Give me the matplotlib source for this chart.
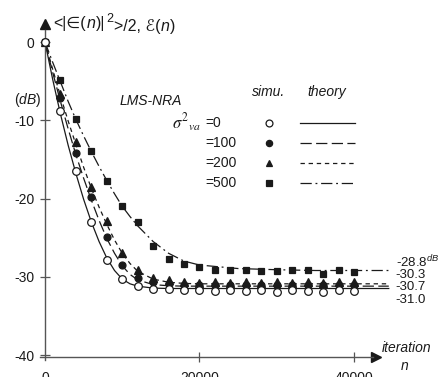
import matplotlib
matplotlib.use("Agg")
import matplotlib.pyplot as plt

plt.rcParams['font.family'] = ['Liberation Sans', 'DejaVu Sans']
plt.rcParams['mathtext.fontset'] = 'custom'
plt.rcParams['mathtext.rm'] = 'Liberation Sans'
plt.rcParams['mathtext.it'] = 'Liberation Sans:italic'

# simulation points (every 2000 iterations)
n_sim = [0, 2000, 4000, 6000, 8000, 10000, 12000, 14000, 16000, 18000, 20000,
         22000, 24000, 26000, 28000, 30000, 32000, 34000, 36000, 38000, 40000]
sim0 = [0, -8.8, -16.5, -23.0, -27.9, -30.3, -31.2, -31.5, -31.5, -31.7, -31.7,
        -31.8, -31.7, -31.8, -31.7, -31.9, -31.7, -31.8, -31.9, -31.7, -31.8]
sim100 = [0, -7.1, -14.2, -19.8, -24.9, -28.5, -30.2, -30.7, -30.9, -31.0, -31.0,
          -31.0, -31.1, -31.0, -31.0, -31.1, -31.0, -31.0, -31.1, -31.0, -31.0]
sim200 = [0, -6.6, -12.8, -18.5, -22.9, -26.9, -29.1, -30.2, -30.4, -30.7, -30.8,
          -30.7, -30.8, -30.7, -30.8, -30.7, -30.8, -30.7, -30.8, -30.7, -30.7]
sim500 = [0, -4.8, -9.8, -13.9, -17.7, -20.9, -23.0, -26.1, -27.7, -28.4, -28.7,
          -29.1, -29.1, -29.1, -29.3, -29.3, -29.1, -29.1, -29.6, -29.1, -29.4]

# theory curves
n_th = [0, 1000, 2000, 3000, 4000, 5000, 6000, 7000, 8000, 9000, 10000, 11000,
        12000, 14000, 16000, 18000, 20000, 25000, 30000, 35000, 40000, 44500]
th0 = [0, -4.8, -9.2, -13.2, -16.8, -20.1, -23.0, -25.5, -27.6, -29.2, -30.3, -30.9,
       -31.2, -31.45, -31.5, -31.5, -31.5, -31.5, -31.5, -31.5, -31.5, -31.5]
th100 = [0, -3.9, -7.6, -11.1, -14.4, -17.4, -20.2, -22.8, -25.1, -27.0, -28.6, -29.7,
         -30.4, -31.0, -31.15, -31.2, -31.2, -31.2, -31.2, -31.2, -31.2, -31.2]
th200 = [0, -3.5, -6.9, -10.1, -13.1, -16.0, -18.7, -21.1, -23.3, -25.3, -27.0, -28.3,
         -29.3, -30.3, -30.7, -30.85, -30.9, -30.9, -30.9, -30.9, -30.9, -30.9]
th500 = [0, -2.6, -5.1, -7.6, -9.9, -12.0, -14.0, -15.9, -17.7, -19.4, -21.0, -22.3,
         -23.5, -25.5, -27.0, -28.0, -28.5, -28.95, -29.1, -29.2, -29.2, -29.2]

var_labels = ['=0', '=100', '=200', '=500']
end_labels = [r'-28.8$^{\mathit{dB}}$', '-30.3', '-30.7', '-31.0']
end_pos = [-28.1, -29.75, -31.35, -32.95]

ink = '#1a1a1a'
axc = '#555555'
dash_styles = ['-', (0, (9, 3.5)), (0, (3.5, 3)), (0, (9, 3, 1.5, 3))]
markers = [dict(marker='o', mfc='white', ms=5.5),
           dict(marker='o', mfc=ink, ms=5),
           dict(marker='^', mfc=ink, ms=5.5),
           dict(marker='s', mfc=ink, ms=4.8)]

fig = plt.figure(figsize=(4.4, 3.77), dpi=100)
ax = fig.add_axes([0, 0, 1, 1])
ax.set_xlim(-5825, 51133)
ax.set_ylim(-42.81, 5.37)

sims = [sim0, sim100, sim200, sim500]
ths = [th0, th100, th200, th500]
for i in range(4):
    ax.plot(n_th, ths[i], color=ink, lw=0.9, linestyle=dash_styles[i], zorder=2)
    ax.plot(n_sim, sims[i], linestyle='none', color=ink, mec=ink, mew=0.9,
            zorder=3 + (i == 0), **markers[i])

# axes with arrows
for s in ['top', 'right']:
    ax.spines[s].set_visible(False)
ax.spines['left'].set_position(('data', 0))
ax.spines['bottom'].set_position(('data', -40.3))
ax.spines['left'].set_bounds(-40.6, 1.5)
ax.spines['bottom'].set_bounds(-700, 42500)
for s in ['left', 'bottom']:
    ax.spines[s].set_color(axc)
    ax.spines[s].set_linewidth(1.0)
ax.plot([0], [2.3], marker='^', ms=7, color=ink, clip_on=False)
ax.plot([42900], [-40.3], marker='>', ms=7, color=ink, clip_on=False)

ax.set_yticks([0, -10, -20, -30, -40])
ax.set_yticklabels(['0', '-10', '-20', '-30', '-40'])
ax.set_xticks([20000, 40000])
ax.set_xticklabels([])
ax.tick_params(axis='both', direction='inout', length=7, width=0.9, color=axc,
               labelsize=10, labelcolor=ink)
ax.tick_params(axis='y', pad=4)
for xv, lab in zip([0, 20000, 40000], ['0', '20000', '40000']):
    ax.text(xv, -42.1, lab, ha='center', va='top', fontsize=10, color=ink)

# y label built from pieces so the fallback font handles the symbols
pieces = [('<|\u2208(', 'normal', 0), ('n', 'italic', 0), (')|', 'normal', 0),
          ('2', 'normal', 1), ('>/2, \u2130(', 'normal', 0), ('n', 'italic', 0),
          (')', 'normal', 0)]
prev = ax.text(0.122, 0.925, pieces[0][0], transform=ax.transAxes, fontsize=11.5,
               color=ink, va='baseline', ha='left')
for txt, st, sup in pieces[1:]:
    if sup:
        prev = ax.annotate(txt, xy=(1, 0), xycoords=prev, xytext=(1, 7),
                           textcoords='offset points', fontsize=9, color=ink,
                           va='baseline', ha='left')
    else:
        prev = ax.annotate(txt, xy=(1, 0), xycoords=prev, xytext=(0, 0) if st == 'normal' else (0.5, 0),
                           textcoords='offset points', fontsize=11.5, color=ink,
                           va='bottom', ha='left', style=st)
    if sup:
        # next piece back on the main line
        prev = ax.annotate('', xy=(1, 0), xycoords=prev, xytext=(0, -7),
                           textcoords='offset points', fontsize=9)

ax.text(0.062, 0.734, r'($\mathit{dB}$)', transform=ax.transAxes, fontsize=10,
        color=ink, va='center', ha='center')
ax.text(0.868, 0.078, 'iteration', transform=ax.transAxes, fontsize=10, color=ink,
        style='italic', va='center', ha='left')
ax.text(0.92, 0.028, 'n', transform=ax.transAxes, fontsize=10, color=ink,
        style='italic', va='center', ha='center')

# legend block
ax.text(0.343, 0.733, 'LMS-NRA', transform=ax.transAxes, fontsize=10, color=ink,
        style='italic', va='center', ha='center')
ax.text(0.611, 0.756, 'simu.', transform=ax.transAxes, fontsize=10, color=ink,
        style='italic', va='center', ha='center')
ax.text(0.743, 0.756, 'theory', transform=ax.transAxes, fontsize=10, color=ink,
        style='italic', va='center', ha='center')
ax.text(0.39, 0.674, r'$\sigma^{2}{}_{va}$', transform=ax.transAxes, fontsize=12,
        color=ink, va='center', ha='left', math_fontfamily='stix')
rows = [0.674, 0.621, 0.567, 0.515]
for i in range(4):
    ax.text(0.466, rows[i], var_labels[i], transform=ax.transAxes, fontsize=10,
            color=ink, va='center', ha='left')
    ax.plot([0.611], [rows[i]], transform=ax.transAxes, linestyle='none', color=ink,
            mec=ink, mew=0.9, **dict(markers[i], ms=markers[i]['ms'] * 0.9))
    ax.plot([0.682, 0.807], [rows[i], rows[i]], transform=ax.transAxes, color=ink,
            lw=0.9, linestyle=dash_styles[i])

# steady-state labels
for lab, yv in zip(end_labels, end_pos):
    ax.text(45400, yv, lab, fontsize=9.5, color=ink, va='center', ha='left')

fig.savefig('out.png', dpi=100)
